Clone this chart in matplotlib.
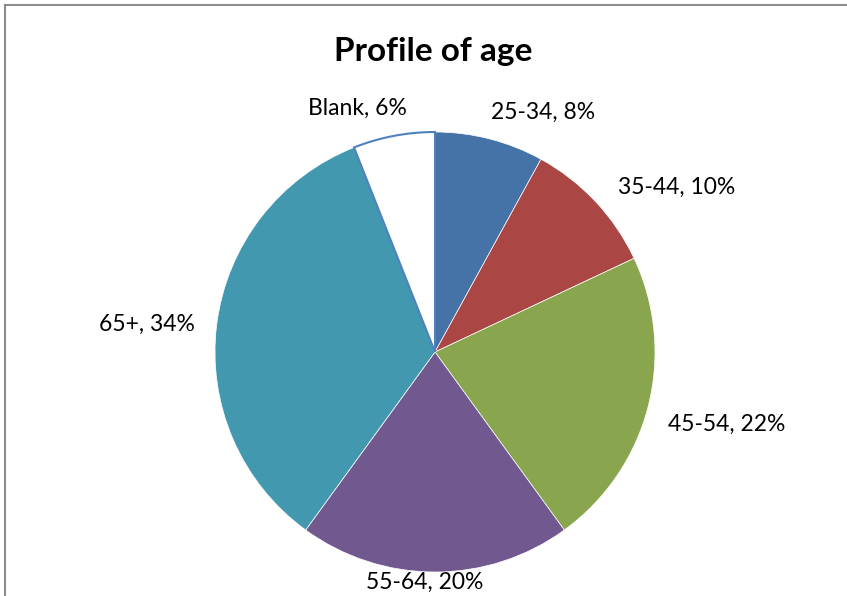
import matplotlib.pyplot as plt

labels = ["25-34", "35-44", "45-54", "55-64", "65+", "Blank"]
shares = [8, 10, 22, 20, 34, 6]
colors = ["#4572A7", "#AA4643", "#89A54E", "#71588F", "#4198AF", "#FFFFFF"]

# label centres in pixel space (x from left, y from top)
label_pos = [(543, 112), (677, 187), (727, 424), (425, 582), (147, 324), (357, 108)]

W, H = 847, 596
fig = plt.figure(figsize=(W / 100, H / 100), dpi=100)
ax = fig.add_axes([0, 0, 1, 1])
ax.set_xlim(0, W)
ax.set_ylim(H, 0)
ax.axis("off")

# chart frame, only top and left edges show in the crop
ax.plot([5, W], [5, 5], color="#8C8C8C", linewidth=1.5)
ax.plot([5, 5], [5, H], color="#8C8C8C", linewidth=1.5)

# pie in its own axes so angles run the normal way
cx, cy, r = 435, 352, 220
pax = fig.add_axes([(cx - r) / W, (H - cy - r) / H, 2 * r / W, 2 * r / H])
wedges, _ = pax.pie(shares, colors=colors, startangle=90, counterclock=False,
                    wedgeprops=dict(edgecolor="white", linewidth=0.5))
wedges[-1].set_edgecolor("#4F81BD")
wedges[-1].set_linewidth(1.5)
pax.set_xlim(-1, 1)
pax.set_ylim(-1, 1)
pax.set_aspect("auto")
pax.axis("off")

for lab, val, (x, y) in zip(labels, shares, label_pos):
    ax.text(x, y, f"{lab}, {val}%", ha="center", va="center",
            fontsize=16.5, family="Lato")

ax.text(433, 52, "Profile of age", ha="center", va="center",
        fontsize=24, fontweight="bold", family="Lato")

fig.savefig("out.png", dpi=100)
